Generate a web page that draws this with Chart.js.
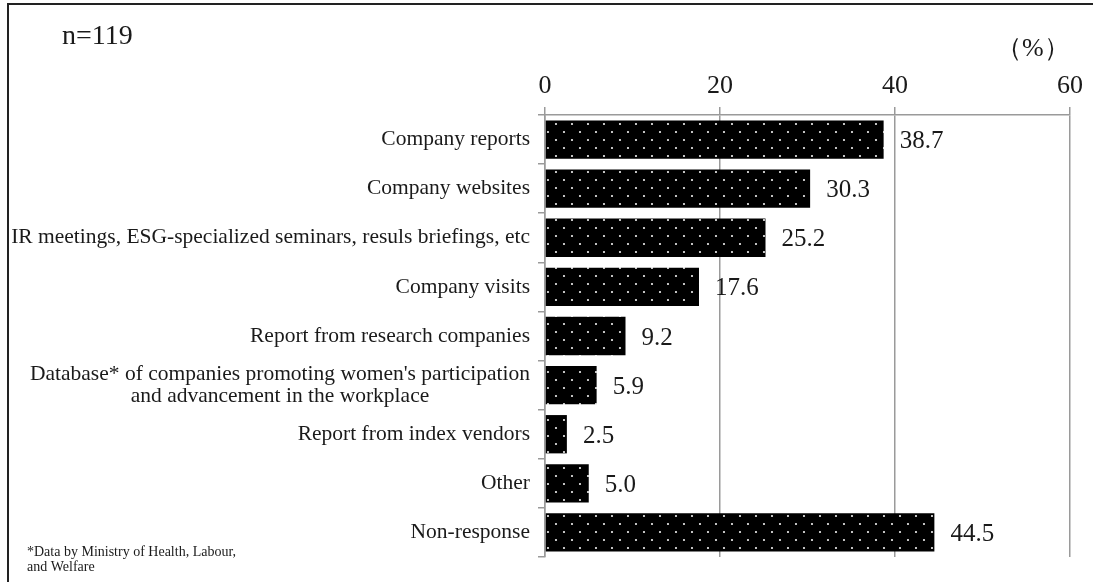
<!DOCTYPE html>
<html>
<head>
<meta charset="utf-8">
<script src="https://cdn.jsdelivr.net/npm/chart.js@4/dist/chart.umd.min.js"></script>
<style>
  html, body { margin: 0; padding: 0; background: #fff; }
  #wrap { position: relative; width: 1093px; height: 582px; }
</style>
</head>
<body>
<div id="wrap"><canvas id="chart" width="1093" height="582"></canvas></div>
<script>
const categories = [
    'Company reports',
    'Company websites',
    'IR meetings, ESG-specialized seminars, resuls briefings, etc',
    'Company visits',
    'Report from research companies',
    ["Database* of companies promoting women's participation", 'and advancement in the workplace'],
    'Report from index vendors',
    'Other',
    'Non-response'
];
const values = [38.7, 30.3, 25.2, 17.6, 9.2, 5.9, 2.5, 5.0, 44.5];
const axisMin = 0;
const axisMax = 60;
const axisStep = 20;
const sampleSize = 'n=119';
const unitLabel = '（%）';
const footnote = ['*Data by Ministry of Health, Labour,', 'and Welfare'];

const serif = '"Liberation Serif", "Times New Roman", serif';

// black fill with a staggered grid of white dots
function dotPattern() {
    let tile = document.createElement('canvas');
    tile.width = 16;
    tile.height = 16;
    let c = tile.getContext('2d');
    c.fillStyle = '#000';
    c.fillRect(0, 0, 16, 16);
    c.fillStyle = '#eee';
    c.beginPath();
    c.arc(4, 4, 1.1, 0, Math.PI * 2);
    c.arc(12, 12, 1.1, 0, Math.PI * 2);
    c.fill();
    return document.getElementById('chart').getContext('2d').createPattern(tile, 'repeat');
}

const textPlugin = {
    id: 'texts',
    beforeDraw(chart) {
        let ctx = chart.ctx;
        ctx.save();
        ctx.strokeStyle = '#222';
        ctx.lineWidth = 2;
        ctx.beginPath();
        ctx.moveTo(8, 582);
        ctx.lineTo(8, 4);
        ctx.lineTo(1093, 4);
        ctx.stroke();
        ctx.restore();
    },
    afterDraw(chart) {
        let ctx = chart.ctx;
        let yScale = chart.scales.y;
        let xScale = chart.scales.x;
        ctx.save();
        ctx.fillStyle = '#1a1a1a';

        // category labels, multi-line ones centred on their widest line
        ctx.font = '21.5px ' + serif;
        ctx.textBaseline = 'middle';
        ctx.textAlign = 'center';
        let rightEdge = yScale.right - 15;
        categories.forEach((label, i) => {
            let lines = Array.isArray(label) ? label : [label];
            let widest = Math.max(...lines.map(l => ctx.measureText(l).width));
            let cx = rightEdge - widest / 2;
            let y0 = yScale.getPixelForValue(i) - (lines.length - 1) * 11;
            lines.forEach((l, k) => ctx.fillText(l, cx, y0 + k * 22));
        });

        // values at the end of each bar
        ctx.font = '25px ' + serif;
        ctx.textAlign = 'left';
        values.forEach((v, i) => {
            ctx.fillText(v.toFixed(1), xScale.getPixelForValue(v) + 16, yScale.getPixelForValue(i) + 2);
        });

        ctx.font = '28px ' + serif;
        ctx.textBaseline = 'alphabetic';
        ctx.fillText(sampleSize, 62, 44);

        ctx.font = '26px ' + serif;
        ctx.fillText(unitLabel, 996, 56);

        ctx.font = '14px ' + serif;
        ctx.fillText(footnote[0], 27, 556);
        ctx.fillText(footnote[1], 27, 571);
        ctx.restore();
    }
};

new Chart(document.getElementById('chart'), {
    type: 'bar',
    data: {
        labels: categories,
        datasets: [{
            data: values,
            backgroundColor: dotPattern(),
            borderWidth: 0,
            categoryPercentage: 0.78,
            barPercentage: 1
        }]
    },
    options: {
        indexAxis: 'y',
        responsive: false,
        animation: false,
        events: [],
        layout: { padding: { left: 0, top: 0, right: 23, bottom: 25 } },
        plugins: {
            legend: { display: false },
            tooltip: { enabled: false }
        },
        scales: {
            x: {
                position: 'top',
                min: axisMin,
                max: axisMax,
                ticks: {
                    stepSize: axisStep,
                    color: '#1a1a1a',
                    padding: 5,
                    font: { family: serif, size: 26 }
                },
                grid: { color: '#9a9a9a', lineWidth: 1.5, tickLength: 8 },
                border: { color: '#9a9a9a', width: 1.5 },
                afterFit(scale) { scale.height = 115; }
            },
            y: {
                ticks: { display: false },
                grid: {
                    offset: true,
                    drawOnChartArea: false,
                    tickLength: 7,
                    color: '#9a9a9a',
                    lineWidth: 1.5
                },
                border: { color: '#9a9a9a', width: 1.5 },
                afterFit(scale) { scale.width = 545; }
            }
        }
    },
    plugins: [textPlugin]
});
</script>
</body>
</html>
